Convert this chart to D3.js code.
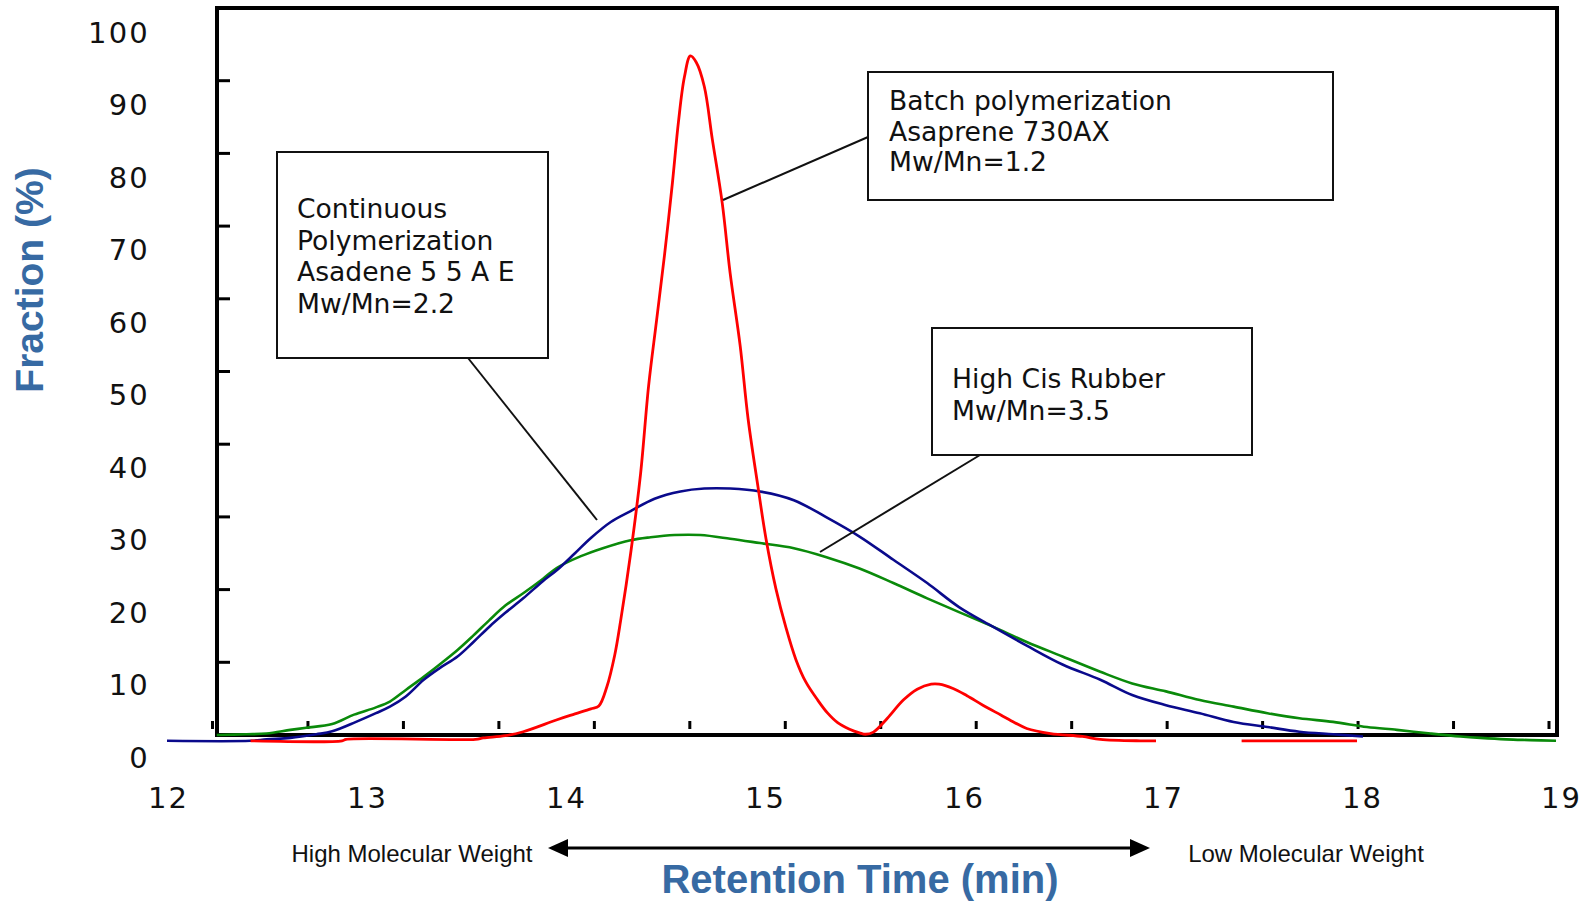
<!DOCTYPE html>
<html>
<head>
<meta charset="utf-8">
<script src="https://cdn.jsdelivr.net/npm/d3@7"></script>
<style>
  html, body { margin: 0; padding: 0; background: #fff; }
  svg { display: block; }
</style>
</head>
<body>
<svg id="chart" width="1591" height="902"></svg>
<script>
// ---------------- data ----------------
const xTickLabels = [12, 13, 14, 15, 16, 17, 18, 19];
const yTickLabels = [0, 10, 20, 30, 40, 50, 60, 70, 80, 90, 100];
const innerYTicks = [10, 20, 30, 40, 50, 60, 70, 80, 90];
const innerXTicks = [12, 12.5, 13, 13.5, 14, 14.5, 15, 15.5, 16, 16.5, 17, 17.5, 18, 18.5, 19];

// Batch polymerization, Asaprene 730AX (red); null = gap in trace
const batchSeries = [
  [12.42,-0.8],[12.88,-0.8],[12.90,-0.6],[13.55,-0.6],[13.59,-0.4],[13.70,-0.1],[13.79,0.45],
  [13.96,2.1],[14.05,2.9],[14.13,3.6],[14.17,4.0],[14.21,6.6],[14.25,11],[14.28,15.8],
  [14.33,25],[14.38,36],[14.42,48],[14.46,57],[14.50,66],[14.54,76],[14.57,84.3],[14.60,90.5],
  [14.63,93.4],[14.66,92.5],[14.70,89.2],[14.74,82],[14.79,73.2],[14.83,63.5],[14.88,53.6],
  [14.92,43.5],[14.97,34.1],[15.01,27],[15.06,20.1],[15.11,14.8],[15.16,10.4],[15.21,7.3],
  [15.27,4.8],[15.32,3.0],[15.37,1.7],[15.43,0.8],[15.48,0.3],[15.51,0.1],[15.55,0.4],
  [15.62,2.3],[15.70,4.8],[15.77,6.3],[15.84,7.0],[15.88,7.0],[15.95,6.4],[16.02,5.4],
  [16.10,4.1],[16.19,2.75],[16.26,1.7],[16.32,0.9],[16.44,0.2],[16.60,-0.2],[16.69,-0.6],
  [16.89,-0.8],[16.97,-0.8],null,[17.40,-0.8],[17.98,-0.8]
];

// Continuous polymerization, Asadene 55AE (blue)
const continuousSeries = [
  [12.00,-0.8],[12.42,-0.8],[12.50,-0.6],[12.62,-0.4],[12.75,0.1],[12.83,0.5],[12.95,1.8],
  [13.05,3.0],[13.12,3.9],[13.20,5.3],[13.29,7.6],[13.37,9.2],[13.46,10.8],[13.54,12.8],
  [13.62,14.9],[13.70,16.8],[13.79,18.8],[13.89,21.2],[13.96,22.7],[14.05,25.0],[14.13,27.1],
  [14.23,29.3],[14.33,30.8],[14.45,32.5],[14.58,33.5],[14.70,33.9],[14.83,33.9],[14.98,33.5],
  [15.15,32.3],[15.31,30.0],[15.48,27.3],[15.65,24.1],[15.82,20.9],[15.98,17.6],[16.15,14.9],
  [16.32,12.3],[16.50,9.7],[16.69,7.6],[16.85,5.5],[17.02,4.1],[17.19,3.0],[17.36,1.8],
  [17.53,1.1],[17.69,0.45],[17.86,0.1],[18.01,-0.2]
];

// High cis rubber (green)
const highCisSeries = [
  [12.25,0],[12.40,0.1],[12.50,0.2],[12.62,0.7],[12.70,1.0],[12.83,1.5],[12.94,2.8],
  [13.05,3.8],[13.12,4.6],[13.20,6.2],[13.29,8.0],[13.37,9.7],[13.46,11.7],[13.54,13.7],
  [13.62,15.8],[13.70,17.8],[13.79,19.5],[13.89,21.5],[13.96,23.0],[14.08,24.6],[14.19,25.7],
  [14.33,26.8],[14.43,27.2],[14.55,27.5],[14.68,27.5],[14.83,27.0],[14.98,26.4],[15.15,25.7],
  [15.31,24.5],[15.48,22.9],[15.65,20.9],[15.82,18.8],[15.98,16.9],[16.15,14.9],[16.32,12.8],
  [16.50,10.8],[16.69,8.7],[16.85,7.1],[17.02,6.0],[17.19,4.8],[17.36,3.9],[17.53,3.0],
  [17.69,2.3],[17.86,1.8],[18.03,1.1],[18.18,0.7],[18.35,0.2],[18.50,-0.2],[18.60,-0.4],
  [18.73,-0.6],[18.85,-0.7],[18.98,-0.8]
];

const annotationBatch = ["Batch polymerization", "Asaprene 730AX", "Mw/Mn=1.2"];
const annotationContinuous = ["Continuous", "Polymerization", "Asadene 5 5 A E", "Mw/Mn=2.2"];
const annotationHighCis = ["High Cis Rubber", "Mw/Mn=3.5"];

// ---------------- drawing ----------------
const svg = d3.select("#chart");
const frame = { left: 217, right: 1557, top: 8, bottom: 735 };

const x = d3.scaleLinear().domain([12, 19]).range([167, 1560]);          // data & label axis
const y = d3.scaleLinear().domain([0, 100]).range([frame.bottom, frame.top]); // plot frame scale
const yLabel = d3.scaleLinear().domain([0, 100]).range([757, 32]);       // label positions
const xInner = d3.scaleLinear().domain([12, 19]).range([212.5, 1549]);   // inner frame ticks

const tickFont = "'DejaVu Sans', Verdana, sans-serif";
const blueTitle = "#376aa3";

// y labels
const yAxisG = svg.append("g").attr("transform", "translate(150,0)")
  .call(d3.axisLeft(yLabel).tickValues(yTickLabels).tickSize(0).tickPadding(0).tickFormat(d3.format("d")));
yAxisG.select(".domain").remove();
yAxisG.selectAll("text").attr("font-family", tickFont).attr("font-size", 29)
  .attr("letter-spacing", 2.2).attr("fill", "#111").attr("dy", "0.36em");

// x labels
const xAxisG = svg.append("g").attr("transform", "translate(0,808)")
  .call(d3.axisBottom(x).tickValues(xTickLabels).tickSize(0).tickPadding(0).tickFormat(d3.format("d")));
xAxisG.select(".domain").remove();
xAxisG.selectAll("text").attr("font-family", tickFont).attr("font-size", 29)
  .attr("letter-spacing", 2.2).attr("fill", "#111").attr("dy", 0).attr("dx", 1.1);

// inner y ticks on left frame
svg.append("g").selectAll("line").data(innerYTicks).join("line")
  .attr("x1", frame.left).attr("x2", frame.left + 13)
  .attr("y1", d => y(d)).attr("y2", d => y(d))
  .attr("stroke", "#000").attr("stroke-width", 3);

// small x ticks above baseline
svg.append("g").selectAll("line").data(innerXTicks).join("line")
  .attr("x1", d => xInner(d)).attr("x2", d => xInner(d))
  .attr("y1", 721).attr("y2", 729)
  .attr("stroke", "#000").attr("stroke-width", 3);

// frame
svg.append("rect")
  .attr("x", frame.left).attr("y", frame.top)
  .attr("width", frame.right - frame.left).attr("height", frame.bottom - frame.top)
  .attr("fill", "none").attr("stroke", "#000").attr("stroke-width", 4);

// curves
const line = d3.line()
  .defined(d => d !== null)
  .x(d => x(d[0])).y(d => y(d[1]))
  .curve(d3.curveCatmullRom.alpha(0.5));

svg.append("path").datum(highCisSeries).attr("d", line)
  .attr("fill", "none").attr("stroke", "#0a8a0a").attr("stroke-width", 2.6);
svg.append("path").datum(continuousSeries).attr("d", line)
  .attr("fill", "none").attr("stroke", "#0a0a8c").attr("stroke-width", 2.6);
svg.append("path").datum(batchSeries).attr("d", line)
  .attr("fill", "none").attr("stroke", "#ff0000").attr("stroke-width", 2.8);

// annotation boxes
function box(x0, y0, x1, y1, lines, tx, ty0, lh) {
  svg.append("rect").attr("x", x0).attr("y", y0).attr("width", x1 - x0).attr("height", y1 - y0)
    .attr("fill", "#fff").attr("stroke", "#111").attr("stroke-width", 2);
  svg.append("g").selectAll("text").data(lines).join("text")
    .attr("x", tx).attr("y", (d, i) => ty0 + i * lh)
    .attr("font-family", "'DejaVu Sans', Verdana, sans-serif").attr("font-size", 26.6).attr("fill", "#111")
    .text(d => d);
}
function leader(x1, y1, x2, y2) {
  svg.append("line").attr("x1", x1).attr("y1", y1).attr("x2", x2).attr("y2", y2)
    .attr("stroke", "#111").attr("stroke-width", 2);
}
leader(468, 358, 597, 520);
leader(868, 137, 723, 200);
leader(980, 455, 820, 552);
box(277, 152, 548, 358, annotationContinuous, 297, 218, 31.7);
box(868, 72, 1333, 200, annotationBatch, 889, 110, 30.7);
box(932, 328, 1252, 455, annotationHighCis, 952, 388, 31.5);

// axis titles
svg.append("text").attr("transform", "translate(43,280) rotate(-90)")
  .attr("text-anchor", "middle").attr("font-family", "'Liberation Sans', Arial, sans-serif")
  .attr("font-weight", "bold").attr("font-size", 39).attr("fill", blueTitle).text("Fraction (%)");
svg.append("text").attr("x", 860).attr("y", 893)
  .attr("text-anchor", "middle").attr("font-family", "'Liberation Sans', Arial, sans-serif")
  .attr("font-weight", "bold").attr("font-size", 40).attr("fill", blueTitle).text("Retention Time (min)");

// molecular weight arrow
svg.append("text").attr("x", 412).attr("y", 862).attr("text-anchor", "middle")
  .attr("font-family", "'Liberation Sans', Arial, sans-serif").attr("font-size", 24).attr("fill", "#111")
  .text("High Molecular Weight");
svg.append("text").attr("x", 1306).attr("y", 862).attr("text-anchor", "middle")
  .attr("font-family", "'Liberation Sans', Arial, sans-serif").attr("font-size", 24).attr("fill", "#111")
  .text("Low Molecular Weight");
svg.append("line").attr("x1", 560).attr("x2", 1138).attr("y1", 848).attr("y2", 848)
  .attr("stroke", "#000").attr("stroke-width", 3);
svg.append("path").attr("d", "M548,848 L568,839 L568,857 Z").attr("fill", "#000");
svg.append("path").attr("d", "M1150,848 L1130,839 L1130,857 Z").attr("fill", "#000");
</script>
</body>
</html>
